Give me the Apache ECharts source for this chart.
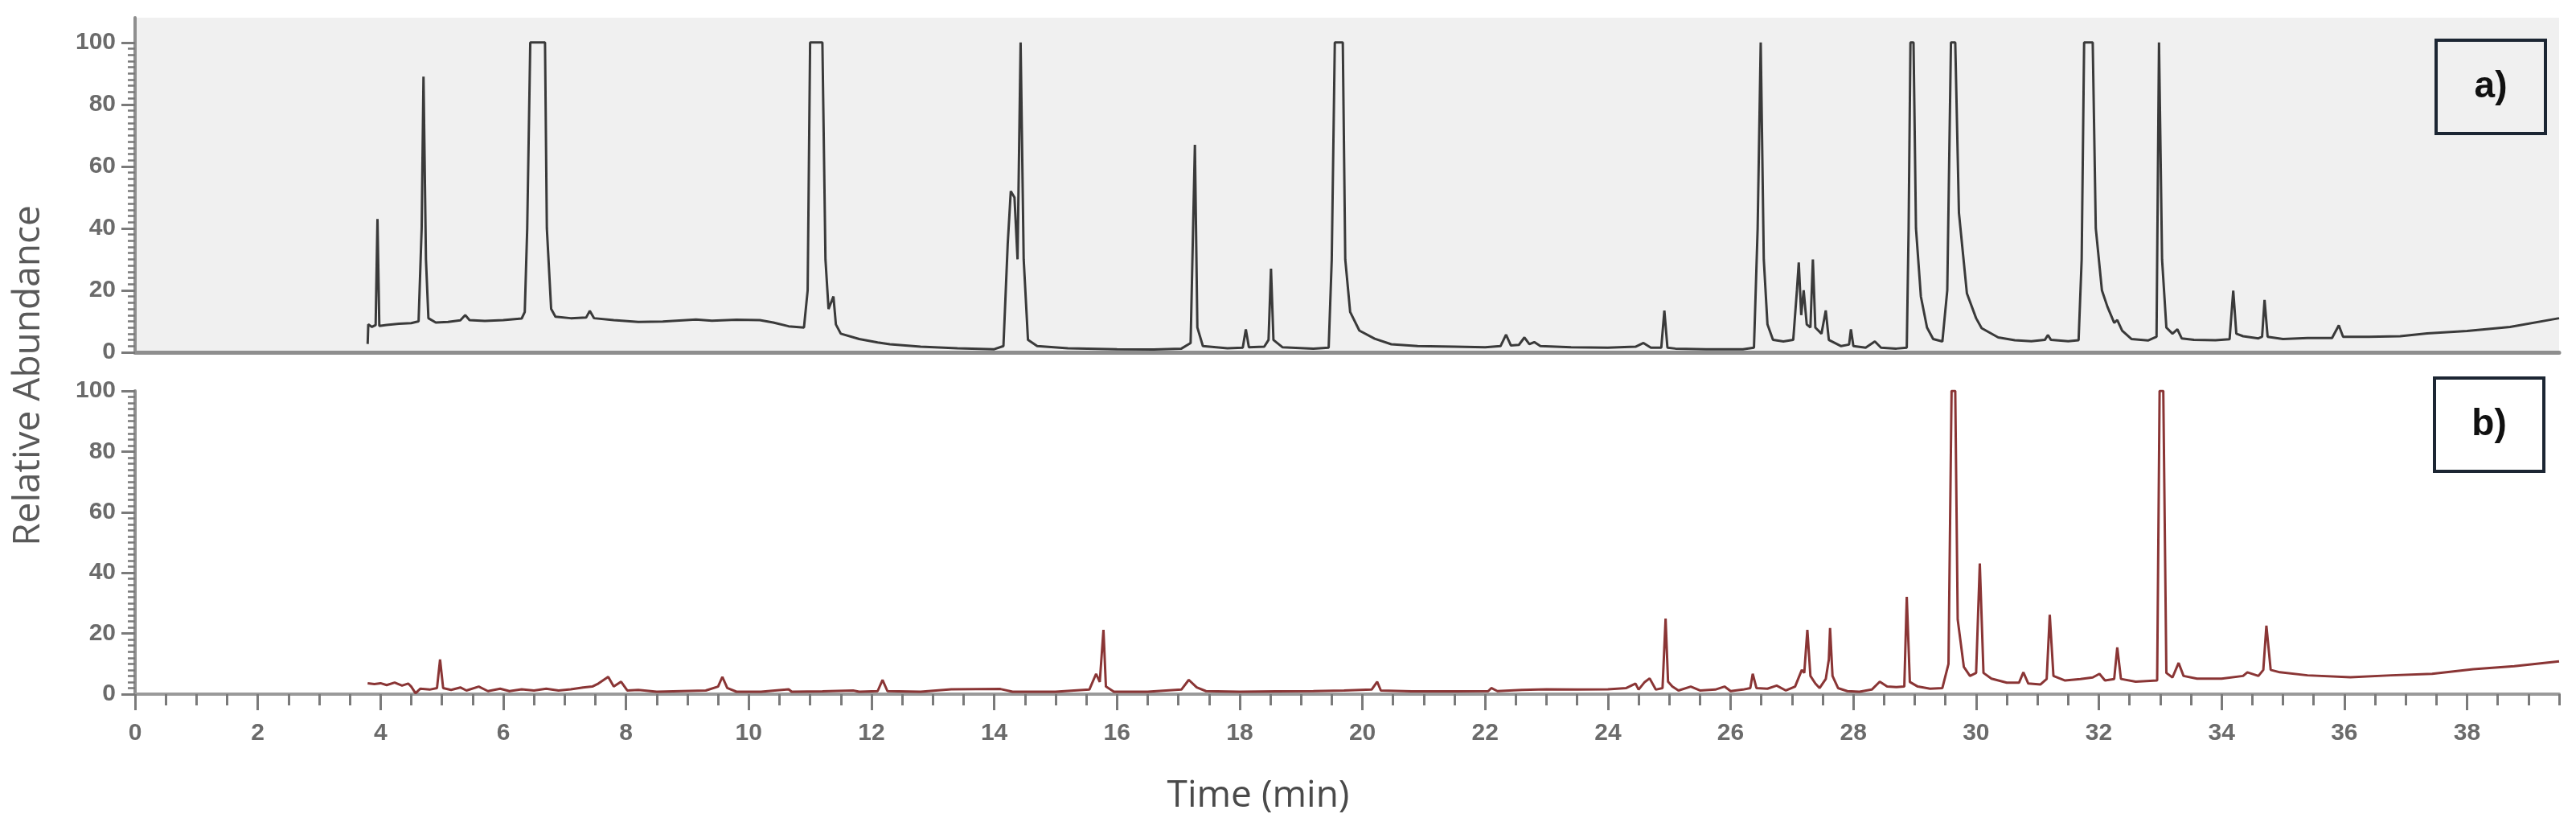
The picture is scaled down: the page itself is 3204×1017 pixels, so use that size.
<!DOCTYPE html>
<html>
<head>
<meta charset="utf-8">
<title>GC chromatograms a) / b)</title>
<script src="https://cdn.jsdelivr.net/npm/echarts@6.0.0/dist/echarts.min.js"></script>
<style>
  html, body { margin: 0; padding: 0; background: #ffffff; }
  #chart { width: 3204px; height: 1017px; }
</style>
</head>
<body>
<div id="chart"></div>
<script>
// retention time (min), relative abundance (%)
const traceA = [
  [3.79, 2.7], [3.80, 9.0], [3.86, 8.2], [3.92, 8.8], [3.95, 43], [3.98, 8.5], [4.1, 8.8], [4.3, 9.2],
  [4.5, 9.4], [4.62, 10], [4.67, 40], [4.70, 89], [4.74, 30], [4.78, 11], [4.9, 9.6], [5.1, 9.8],
  [5.3, 10.3], [5.38, 12], [5.45, 10.4], [5.7, 10.1], [6.0, 10.4], [6.3, 10.9], [6.35, 13], [6.39, 40],
  [6.44, 100], [6.68, 100], [6.71, 40], [6.78, 14], [6.85, 11.5], [7.1, 11], [7.35, 11.2], [7.41, 13.4],
  [7.48, 11], [7.8, 10.4], [8.2, 9.8], [8.6, 9.9], [9.14, 10.6], [9.4, 10.2], [9.8, 10.5], [10.18, 10.4],
  [10.4, 9.6], [10.65, 8.4], [10.9, 8], [10.96, 20], [11.0, 100], [11.2, 100], [11.25, 30], [11.3, 14],
  [11.38, 18], [11.42, 9], [11.5, 6], [11.8, 4.3], [12.1, 3.2], [12.3, 2.6], [12.8, 1.8], [13.4, 1.3],
  [14.0, 1], [14.15, 2], [14.22, 35], [14.27, 52], [14.33, 50], [14.38, 30], [14.43, 100], [14.48, 30],
  [14.55, 4], [14.7, 2], [15.2, 1.3], [16.0, 1.0], [16.6, 0.9], [17.05, 1.2], [17.2, 3], [17.27, 67],
  [17.31, 8], [17.4, 2], [17.8, 1.3], [18.05, 1.5], [18.1, 7.4], [18.15, 1.6], [18.4, 1.8], [18.47, 4],
  [18.51, 27], [18.55, 4], [18.7, 1.6], [19.2, 1.2], [19.45, 1.5], [19.5, 30], [19.55, 100], [19.68, 100],
  [19.72, 30], [19.8, 13], [19.95, 7], [20.2, 4.4], [20.47, 2.6], [20.9, 2], [21.5, 1.8], [22.0, 1.6],
  [22.25, 2], [22.34, 5.7], [22.42, 2.2], [22.55, 2.4], [22.64, 4.8], [22.72, 2.6], [22.8, 3.3], [22.9, 2],
  [23.4, 1.6], [24.0, 1.5], [24.45, 1.8], [24.58, 3], [24.7, 1.5], [24.87, 1.5], [24.92, 13.5], [24.97, 1.5],
  [25.1, 1.2], [25.6, 1.0], [26.2, 1.0], [26.38, 1.5], [26.44, 40], [26.49, 100], [26.54, 30], [26.6, 9],
  [26.69, 4], [26.86, 3.5], [27.02, 4], [27.08, 20], [27.11, 29], [27.15, 12], [27.19, 20], [27.24, 9],
  [27.3, 8], [27.34, 30], [27.38, 8], [27.48, 6], [27.55, 13.5], [27.6, 4], [27.8, 2], [27.93, 2.5],
  [27.96, 7.4], [28.0, 2], [28.2, 1.5], [28.35, 3.5], [28.45, 1.5], [28.7, 1.2], [28.87, 1.5], [28.9, 40],
  [28.93, 100], [28.98, 100], [29.02, 40], [29.1, 18], [29.2, 8], [29.3, 4.3], [29.45, 3.5], [29.53, 20],
  [29.59, 100], [29.66, 100], [29.72, 45], [29.85, 19], [30.0, 11], [30.09, 7.8], [30.36, 4.8], [30.63, 3.9],
  [30.9, 3.6], [31.12, 4], [31.17, 5.6], [31.22, 4], [31.5, 3.6], [31.67, 3.9], [31.72, 30], [31.76, 100],
  [31.9, 100], [31.95, 40], [32.05, 20], [32.14, 14.7], [32.25, 9.5], [32.3, 10.4], [32.38, 7], [32.53, 4.3],
  [32.8, 3.8], [32.94, 5], [32.98, 100], [33.03, 30], [33.1, 8], [33.2, 6], [33.28, 7.4], [33.35, 4.5],
  [33.55, 4], [33.9, 3.9], [34.13, 4.2], [34.19, 19.9], [34.24, 6], [34.35, 5.2], [34.6, 4.5], [34.66, 5],
  [34.70, 16.9], [34.75, 5], [35.0, 4.3], [35.4, 4.6], [35.8, 4.6], [35.91, 8.7], [35.98, 5], [36.4, 5],
  [36.91, 5.2], [37.35, 6.1], [38.0, 6.9], [38.7, 8.2], [39.5, 11]
]

const traceB = [
  [3.79, 3.6], [3.9, 3.3], [4.0, 3.6], [4.1, 3.0], [4.23, 3.8], [4.35, 2.8], [4.45, 3.5], [4.5, 2.5],
  [4.57, 0.3], [4.65, 1.8], [4.8, 1.5], [4.92, 2], [4.97, 11.4], [5.02, 2], [5.15, 1.4], [5.3, 2.2],
  [5.4, 1.2], [5.6, 2.5], [5.75, 1.0], [5.95, 1.8], [6.1, 1.0], [6.3, 1.6], [6.5, 1.2], [6.7, 1.8],
  [6.9, 1.2], [7.1, 1.6], [7.3, 2.2], [7.45, 2.5], [7.55, 3.5], [7.71, 5.7], [7.8, 2.5], [7.92, 4.1],
  [8.02, 1.2], [8.2, 1.4], [8.5, 0.8], [8.9, 1.0], [9.3, 1.2], [9.5, 2.5], [9.57, 5.7], [9.65, 2.0],
  [9.8, 0.8], [10.2, 0.8], [10.65, 1.6], [10.7, 0.8], [11.2, 0.9], [11.7, 1.2], [11.8, 0.8], [12.1, 1.0],
  [12.18, 4.7], [12.26, 1.0], [12.8, 0.8], [13.3, 1.6], [14.1, 1.7], [14.3, 0.8], [15.0, 0.8], [15.55, 1.5],
  [15.66, 6.7], [15.72, 4], [15.78, 21.2], [15.82, 2.5], [15.95, 0.8], [16.5, 0.8], [17.05, 1.5], [17.17, 4.7],
  [17.3, 2.2], [17.45, 1.0], [18.0, 0.8], [18.6, 0.9], [19.2, 1.0], [19.7, 1.2], [20.15, 1.5], [20.24, 4.1],
  [20.3, 1.2], [20.8, 0.9], [21.5, 0.9], [22.05, 1.0], [22.1, 2.0], [22.2, 1.0], [22.6, 1.4], [23.0, 1.6],
  [23.5, 1.5], [24.0, 1.6], [24.3, 2], [24.45, 3.5], [24.5, 1.5], [24.6, 4], [24.68, 5.2], [24.78, 1.5],
  [24.89, 2], [24.94, 24.9], [24.98, 4.1], [25.05, 2.5], [25.15, 1.2], [25.35, 2.5], [25.5, 1.2], [25.75, 1.5],
  [25.9, 2.5], [26.0, 1.0], [26.2, 1.5], [26.32, 2], [26.36, 6.7], [26.42, 2], [26.6, 1.8], [26.75, 2.8],
  [26.9, 1.2], [27.05, 2.5], [27.12, 6], [27.16, 8], [27.2, 7], [27.25, 21.2], [27.3, 6], [27.38, 3.5],
  [27.45, 2], [27.55, 5], [27.6, 11.4], [27.62, 21.8], [27.66, 6], [27.75, 2], [27.9, 1.0], [28.1, 0.8],
  [28.3, 1.5], [28.43, 4.1], [28.55, 2.5], [28.7, 2.3], [28.83, 2.5], [28.87, 32.1], [28.92, 4], [29.05, 2.5],
  [29.25, 1.8], [29.45, 2], [29.55, 10], [29.60, 100], [29.66, 100], [29.7, 24.6], [29.8, 9], [29.9, 6],
  [30.0, 7], [30.06, 43.1], [30.12, 7], [30.25, 5.1], [30.5, 3.8], [30.7, 3.8], [30.77, 7.2], [30.85, 3.5],
  [31.05, 3.2], [31.15, 5], [31.2, 26.2], [31.26, 6], [31.45, 4.5], [31.7, 5], [31.9, 5.5], [32.01, 6.7],
  [32.1, 4.5], [32.25, 5], [32.3, 15.4], [32.36, 5], [32.6, 4.1], [32.95, 4.5], [32.99, 100], [33.05, 100],
  [33.1, 7], [33.2, 5.5], [33.3, 10.3], [33.38, 6], [33.6, 5.1], [34.0, 5.1], [34.35, 6], [34.42, 7.2],
  [34.6, 6], [34.68, 8], [34.73, 22.6], [34.8, 8], [34.95, 7.2], [35.4, 6.2], [36.1, 5.6], [36.76, 6.2],
  [37.43, 6.7], [38.1, 8.2], [38.77, 9.2], [39.5, 10.8]
]

const timeLabels = [0, 2, 4, 6, 8, 10, 12, 14, 16, 18, 20, 22, 24, 26, 28, 30, 32, 34, 36, 38]
const abundanceLabels = [0, 20, 40, 60, 80, 100]
const panelNames = ['a)', 'b)']

const TIME_MAX = 39.5
const axisGray = '#8e8e8e'
const labelGray = '#6b6b6b'
const narrowFont = '"Liberation Sans Narrow", "Arial Narrow", "Liberation Sans", sans-serif'
const titleFont = '46px "Open Sans", "Noto Sans", sans-serif'

// minor tick positions (every 0.5 min / every 2 %)
const timeMinor = []
for (let t = 0; t <= TIME_MAX; t += 0.5) timeMinor.push(t)
const abundanceMinor = []
for (let v = 0; v <= 100; v += 2) abundanceMinor.push(v)

const chart = echarts.init(document.getElementById('chart'))

// one pair of y axes per panel: short minor ticks + long labelled ticks
const makeYAxes = (gridIndex, max) => ([
  {
    type: 'value', gridIndex, position: 'left', min: 0, max,
    axisLine: { show: true, lineStyle: { color: axisGray, width: 4 } },
    axisTick: { show: true, customValues: abundanceMinor, length: 9, lineStyle: { color: '#7a7a7a', width: 2.5 } },
    axisLabel: { show: false },
    splitLine: { show: false }
  },
  {
    type: 'value', gridIndex, position: 'left', min: 0, max,
    axisLine: { show: false },
    axisTick: { show: true, customValues: abundanceLabels, length: 17, lineStyle: { color: '#7a7a7a', width: 3 } },
    axisLabel: {
      customValues: abundanceLabels, margin: 24,
      fontSize: 30, color: labelGray, fontFamily: narrowFont, fontWeight: 'bold'
    },
    splitLine: { show: false }
  }
])

// panel tag: framed bold letter in the upper right corner
const makeTag = (name, x, y, w, h, fill) => ({
  type: 'group',
  children: [
    { type: 'rect', shape: { x, y, width: w, height: h }, style: { fill, stroke: '#1c2633', lineWidth: 4 } },
    {
      type: 'text', x: x + w / 2, y: y + h / 2,
      style: { text: name, fill: '#111', font: 'bold 46px "Liberation Sans", sans-serif', textAlign: 'center', textVerticalAlign: 'middle' }
    }
  ]
})

const option = {
  backgroundColor: '#ffffff',
  animation: false,
  grid: [
    { left: 168, right: 21, top: 22, height: 416, show: true, backgroundColor: '#f0f0f0', borderWidth: 0 },
    { left: 168, right: 21, top: 486, height: 377 }
  ],
  xAxis: [
    {
      type: 'value', gridIndex: 0, position: 'bottom', min: 0, max: TIME_MAX,
      axisLine: { show: true, lineStyle: { color: axisGray, width: 5 } },
      axisTick: { show: false }, axisLabel: { show: false }, splitLine: { show: false }
    },
    {
      type: 'value', gridIndex: 1, position: 'bottom', min: 0, max: TIME_MAX,
      axisLine: { show: true, lineStyle: { color: '#9a9a9a', width: 4 } },
      axisTick: { show: true, customValues: timeMinor, length: 14, lineStyle: { color: '#7a7a7a', width: 3 } },
      axisLabel: { show: false }, splitLine: { show: false }
    },
    {
      type: 'value', gridIndex: 1, position: 'bottom', min: 0, max: TIME_MAX,
      axisLine: { show: false },
      axisTick: { show: true, customValues: timeLabels, length: 20, lineStyle: { color: '#7a7a7a', width: 3 } },
      axisLabel: {
        customValues: timeLabels, margin: 34,
        fontSize: 30, color: labelGray, fontFamily: narrowFont, fontWeight: 'bold'
      },
      splitLine: { show: false }
    }
  ],
  yAxis: [
    ...makeYAxes(0, 108),
    ...makeYAxes(1, 100)
  ],
  series: [
    {
      name: 'a', type: 'line', xAxisIndex: 0, yAxisIndex: 0,
      data: traceA, showSymbol: false, symbol: 'none', clip: true,
      lineStyle: { color: '#3a3a3a', width: 3 }
    },
    {
      name: 'b', type: 'line', xAxisIndex: 1, yAxisIndex: 2,
      data: traceB, showSymbol: false, symbol: 'none', clip: true,
      lineStyle: { color: '#8a3535', width: 3 }
    }
  ],
  graphic: [
    {
      type: 'text', x: 36, y: 467, rotation: Math.PI / 2,
      style: { text: 'Relative Abundance', fill: '#595959', font: titleFont, textAlign: 'center', textVerticalAlign: 'middle' }
    },
    {
      type: 'text', x: 1565, y: 990,
      style: { text: 'Time (min)', fill: '#4a4a4a', font: titleFont, textAlign: 'center', textVerticalAlign: 'middle' }
    },
    makeTag(panelNames[0], 3030, 50, 136, 116, 'transparent'),
    makeTag(panelNames[1], 3028, 470, 136, 116, '#ffffff')
  ]
}

chart.setOption(option)
</script>
</body>
</html>
